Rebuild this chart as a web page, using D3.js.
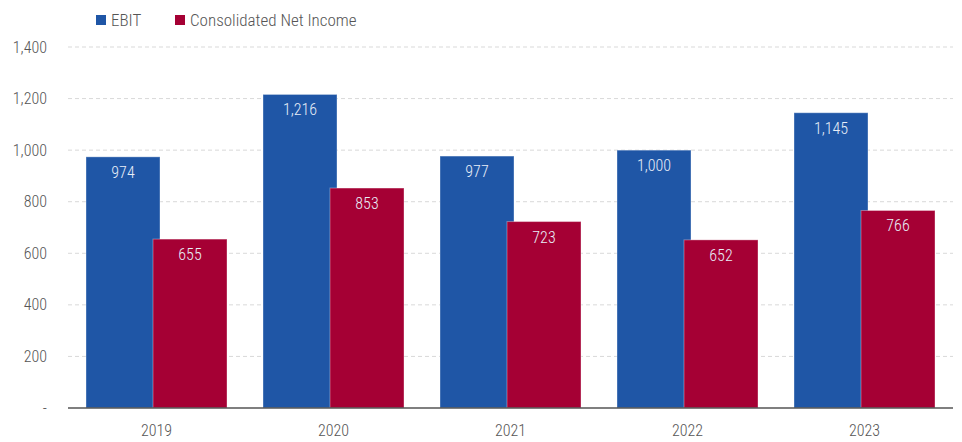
<!DOCTYPE html>
<html>
<head>
<meta charset="utf-8">
<script src="https://cdn.jsdelivr.net/npm/d3@7"></script>
<style>
  body { margin: 0; background: #fff; }
  text { font-family: "Roboto Condensed", "Liberation Sans Narrow", Roboto, sans-serif; font-weight: 300; }
</style>
</head>
<body>
<script>
let years = ["2019", "2020", "2021", "2022", "2023"];
let ebit = [974, 1216, 977, 1000, 1145];
let netIncome = [655, 853, 723, 652, 766];
let seriesNames = ["EBIT", "Consolidated Net Income"];
let seriesColors = ["#1f56a6", "#a50034"];
let yTicks = [0, 200, 400, 600, 800, 1000, 1200, 1400];

let width = 962, height = 442;
let margin = {top: 47, right: 9, bottom: 34, left: 68};

let svg = d3.select("body").append("svg")
    .attr("width", width)
    .attr("height", height);

let x = d3.scaleBand()
    .domain(years)
    .range([margin.left, width - margin.right])
    .paddingInner(0)
    .paddingOuter(0);

let y = d3.scaleLinear()
    .domain([0, 1400])
    .range([height - margin.bottom, margin.top]);

// gridlines
svg.append("g")
    .selectAll("line")
    .data(yTicks.slice(1))
    .enter()
    .append("line")
        .attr("x1", margin.left)
        .attr("x2", width - margin.right)
        .attr("y1", (d) => y(d))
        .attr("y2", (d) => y(d))
        .style("stroke", "#d9d9d9")
        .style("stroke-dasharray", "4,3")
        .style("stroke-width", 1);

// y axis labels
let fmt = d3.format(",");
let yAxis = d3.axisLeft(y)
    .tickValues(yTicks)
    .tickSize(0)
    .tickPadding(21)
    .tickFormat((d) => d === 0 ? "-" : fmt(d));

svg.append("g")
    .attr("transform", `translate(${margin.left},0)`)
    .call(yAxis)
    .call((g) => g.select(".domain").remove())
    .selectAll("text")
        .attr("font-size", 16)
        .style("fill", "#555");

// bars
let barW = 74;
let overlap = 7;
let groupW = barW * 2 - overlap;
let series = [ebit, netIncome];

series.forEach((vals, si) => {
    let g = svg.append("g");
    let offset = (x.bandwidth() - groupW) / 2 + si * (barW - overlap);
    g.selectAll("rect")
        .data(vals)
        .enter()
        .append("rect")
            .attr("x", (d, i) => x(years[i]) + offset)
            .attr("y", (d) => y(d))
            .attr("width", barW)
            .attr("height", (d) => y(0) - y(d))
            .style("fill", seriesColors[si])
            .style("stroke", "rgba(255,255,255,0.35)")
            .style("stroke-width", 1);

    g.selectAll("text")
        .data(vals)
        .enter()
        .append("text")
            .text((d) => fmt(d))
            .attr("x", (d, i) => x(years[i]) + offset + barW / 2)
            .attr("y", (d) => y(d) + 21)
            .attr("text-anchor", "middle")
            .attr("font-size", 16)
            .style("fill", "#e8eef8");
});

// baseline
svg.append("line")
    .attr("x1", margin.left)
    .attr("x2", width - margin.right)
    .attr("y1", y(0))
    .attr("y2", y(0))
    .style("stroke", "#555")
    .style("stroke-width", 1.5);

// x axis
let xAxis = d3.axisBottom(x).tickSize(0).tickPadding(17);
svg.append("g")
    .attr("transform", `translate(0,${y(0)})`)
    .call(xAxis)
    .call((g) => g.select(".domain").remove())
    .selectAll("text")
        .attr("font-size", 16)
        .style("fill", "#555");

// legend
let legendX = [96, 175];
let legend = svg.append("g");
seriesNames.forEach((name, i) => {
    legend.append("rect")
        .attr("x", legendX[i])
        .attr("y", 15)
        .attr("width", 10)
        .attr("height", 10)
        .style("fill", seriesColors[i]);
    legend.append("text")
        .text(name)
        .attr("x", legendX[i] + 15)
        .attr("y", 26)
        .attr("font-size", 17)
        .style("fill", "#555");
});
</script>
</body>
</html>
